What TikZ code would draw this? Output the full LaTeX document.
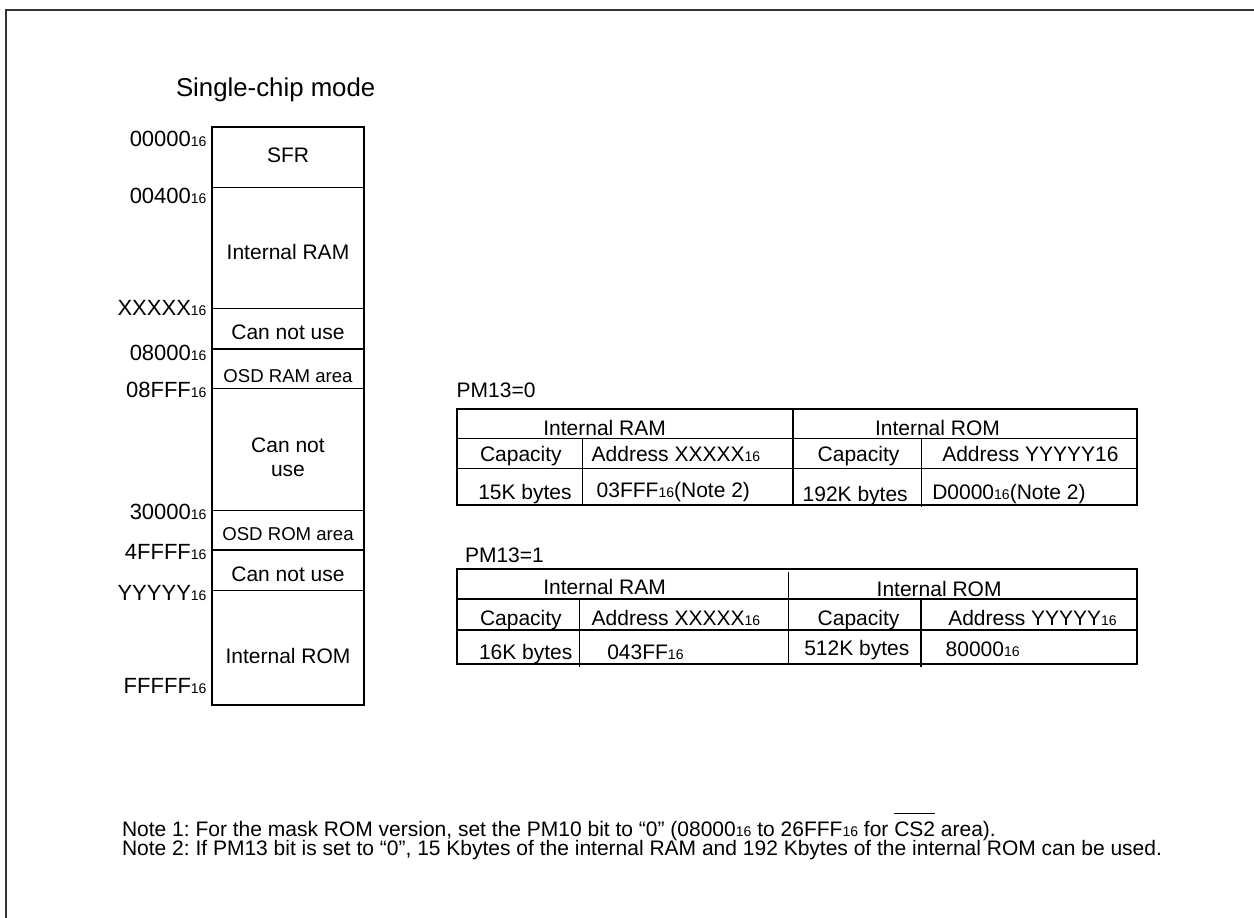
\documentclass[tikz,border=0pt]{standalone}
\usepackage{fontspec}
\setmainfont{Liberation Sans}
\frenchspacing
\newcommand\fsz[1]{\fontsize{#1}{#1}\selectfont}
\newcommand\hx[1]{{\fontsize{14}{14}\selectfont #1}}
\newcommand\ovl[1]{\leavevmode\vbox{\hrule height 1.5pt\kern 7pt\hbox{#1}}}
\begin{document}
\begin{tikzpicture}[x=1pt,y=-1pt,
  txt/.style={inner sep=0pt,outer sep=0pt,font=\fsz{21}},
  adr/.style={inner sep=0pt,outer sep=0pt,font=\fsz{22}},
  osd/.style={inner sep=0pt,outer sep=0pt,font=\fsz{18.6}},
  notetxt/.style={inner sep=0pt,outer sep=0pt,font=\fsz{21}},
  ttl/.style={inner sep=0pt,outer sep=0pt,font=\fsz{25.8}},
  thick box/.style={line width=2pt,black},
  thin line/.style={line width=1.5pt,black},
  frame/.style={line width=2.5pt,black!80}]
\useasboundingbox (0,0) rectangle (1254,918);
\fill[white] (0,0) rectangle (1254,918);
% outer frame (only left and top edges fall inside the picture)
\draw[frame] (6,918) -- (6,10) -- (1254,10);

% title
\node[ttl,anchor=base west] (title) at (176,96.7) {Single-chip mode};

% memory map
\draw[thick box] (212,126.7) rectangle (364,705);
\foreach \yy in {187.3,308.7,349,388.3,510.7,550,590.7}
  \draw[thin line] (212,\yy) -- (364,\yy);

\node[txt,anchor=base] (sfr) at (288,162.3) {SFR};
\node[txt,anchor=base] (iram) at (288,259.3) {Internal RAM};
\node[txt,anchor=base] (cnu1) at (288,339) {Can not use};
\node[osd,anchor=base] (osdram) at (288,382.7) {OSD RAM area};
\node[txt,anchor=base] (cnu2a) at (288,452.7) {Can not};
\node[txt,anchor=base] (cnu2b) at (288,476.7) {use};
\node[osd,anchor=base] (osdrom) at (288,540.7) {OSD ROM area};
\node[txt,anchor=base] (cnu3) at (288,581.7) {Can not use};
\node[txt,anchor=base] (irom) at (288,663.3) {Internal ROM};

% addresses
\node[adr,anchor=base east] (a0) at (206.5,146) {00000\hx{16}};
\node[adr,anchor=base east] (a1) at (206.5,203.3) {00400\hx{16}};
\node[adr,anchor=base east] (a2) at (206.5,315) {XXXXX\hx{16}};
\node[adr,anchor=base east] (a3) at (206.5,360) {08000\hx{16}};
\node[adr,anchor=base east] (a4) at (206.5,397.3) {08FFF\hx{16}};
\node[adr,anchor=base east] (a5) at (206.5,519) {30000\hx{16}};
\node[adr,anchor=base east] (a6) at (206.5,559.3) {4FFFF\hx{16}};
\node[adr,anchor=base east] (a7) at (206.5,600) {YYYYY\hx{16}};
\node[adr,anchor=base east] (a8) at (206.5,693.3) {FFFFF\hx{16}};

% table PM13=0
\node[txt,anchor=base west] (pm0) at (456.7,397.7) {PM13=0};
\draw[thick box] (456.7,408.5) rectangle (1137.3,505);
\draw[thin line] (456.7,438.3) -- (1137.3,438.3);
\draw[thin line] (456.7,468.5) -- (1137.3,468.5);
\draw[thin line] (793,408.5) -- (793,505);
\draw[thin line] (582.3,438.3) -- (582.3,505);
\draw[thin line] (921.7,438.3) -- (921.7,506.5);
\node[txt,anchor=base west] (t0ram) at (543.3,435) {Internal RAM};
\node[txt,anchor=base west] (t0c1) at (480,461) {Capacity};
\node[txt,anchor=base west] (t0a1) at (591.7,461) {Address XXXXX\hx{16}};
\node[txt,anchor=base west] (t0v1) at (478.3,499) {15K bytes};
\node[txt,anchor=base west] (t0w1) at (596.7,497.7) {03FFF\hx{16}(Note 2)};
\node[txt,anchor=base west] (t0rom) at (875,435) {Internal ROM};
\node[txt,anchor=base west] (t0c2) at (817.7,461) {Capacity};
\node[txt,anchor=base west] (t0a2) at (942.3,461) {Address YYYYY16};
\node[txt,anchor=base west] (t0v2) at (802.7,501.7) {192K bytes};
\node[txt,anchor=base west] (t0w2) at (932.3,499) {D0000\hx{16}(Note 2)};

% table PM13=1
\node[txt,anchor=base west] (pm1) at (465,562.7) {PM13=1};
\draw[thick box] (457.3,569.2) rectangle (1137.3,664.2);
\draw[thin line] (457.3,599.2) -- (1137.3,599.2);
\draw[thin line] (457.3,630) -- (1137.3,630);
\draw[thin line] (788.5,571.7) -- (788.5,664.2);
\draw[thin line] (579.3,599.2) -- (579.3,666.7);
\draw[thin line] (921,599.2) -- (921,666.7);
\node[txt,anchor=base west] (t1ram) at (543.3,594) {Internal RAM};
\node[txt,anchor=base west] (t1c1) at (480,625) {Capacity};
\node[txt,anchor=base west] (t1a1) at (591.7,625) {Address XXXXX\hx{16}};
\node[txt,anchor=base west] (t1v1) at (479,659.3) {16K bytes};
\node[txt,anchor=base west] (t1w1) at (607.3,659.3) {043FF\hx{16}};
\node[txt,anchor=base west] (t1rom) at (876.7,596) {Internal ROM};
\node[txt,anchor=base west] (t1c2) at (817.7,625) {Capacity};
\node[txt,anchor=base west] (t1a2) at (948.3,625) {Address YYYYY\hx{16}};
\node[txt,anchor=base west] (t1v2) at (804.3,655.7) {512K bytes};
\node[txt,anchor=base west] (t1w2) at (945.7,656.7) {80000\hx{16}};

% notes
\node[notetxt,anchor=base west] (n1) at (122,836) {Note 1: For the mask ROM version, set the PM10 bit to “0” (08000\hx{16} to 26FFF\hx{16} for \ovl{CS2} area).};
\node[notetxt,anchor=base west] (n2) at (122,855) {Note 2: If PM13 bit is set to “0”, 15 Kbytes of the internal RAM and 192 Kbytes of the internal ROM can be used.};
\end{tikzpicture}
\end{document}
